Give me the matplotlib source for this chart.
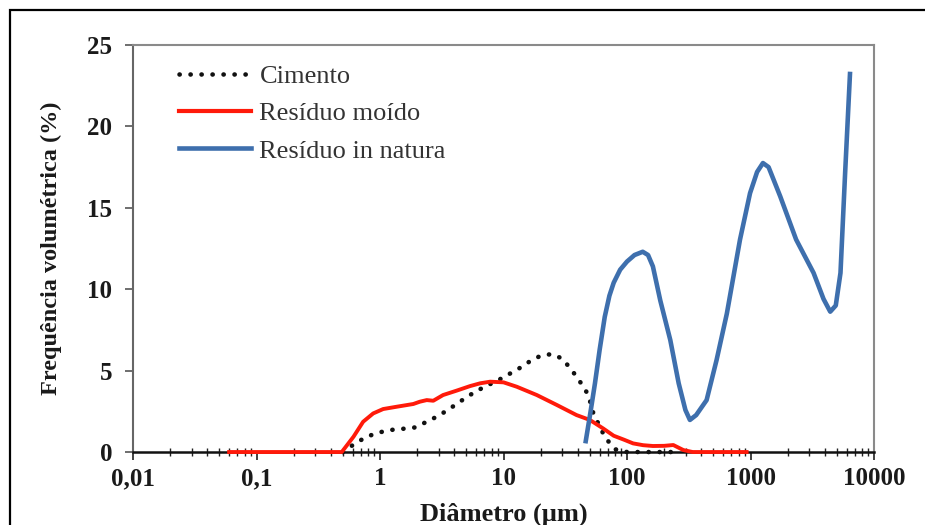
import matplotlib
matplotlib.use("Agg")
import matplotlib.pyplot as plt
from matplotlib.ticker import FixedLocator, FixedFormatter, LogLocator, NullFormatter
from matplotlib.lines import Line2D

# --- data (diameter in µm, volume frequency in %) ---
cimento_d = [0.50, 0.63, 0.78, 0.97, 1.2, 1.55, 1.92, 2.39, 2.88, 3.47, 4.17, 5.0, 6.05,
             7.5, 9.1, 11.0, 13.4, 16.2, 19.8, 24.6, 29.6, 34.3, 39.0, 44.0, 48.6, 53.4,
             64.0, 71.0, 81.0, 100.0, 150.0, 250.0]
cimento_v = [0.0, 0.53, 0.94, 1.19, 1.35, 1.43, 1.51, 1.86, 2.17, 2.54, 2.95, 3.36, 3.75,
             4.11, 4.42, 4.77, 5.14, 5.55, 5.9, 6.02, 5.75, 5.2, 4.63, 4.05, 3.5, 2.37,
             1.15, 0.63, 0.16, 0.0, 0.0, 0.0]

moido_d = [0.06, 0.1, 0.2, 0.3, 0.49, 0.61, 0.73, 0.88, 1.06, 1.36, 1.86, 2.1, 2.39, 2.7,
           3.24, 4.17, 5.36, 6.46, 7.8, 10.0, 12.8, 18.6, 27.0, 39.0, 50.0, 64.0, 78.0,
           95.0, 112.0, 135.0, 162.0, 200.0, 237.0, 286.0, 340.0, 500.0, 930.0]
moido_v = [0.0, 0.0, 0.0, 0.0, 0.0, 0.94, 1.86, 2.37, 2.64, 2.78, 2.95, 3.09, 3.19, 3.15,
           3.5, 3.77, 4.05, 4.22, 4.32, 4.28, 4.01, 3.5, 2.89, 2.27, 1.97, 1.45, 1.0,
           0.75, 0.53, 0.42, 0.37, 0.38, 0.43, 0.12, 0.0, 0.0, 0.0]

natura_d = [46.0, 50.4, 55.0, 60.0, 66.0, 72.0, 78.0, 88.0, 100.0, 115.0, 134.0, 148.0,
            162.0, 186.0, 224.0, 262.0, 297.0, 323.0, 363.0, 441.0, 531.0, 643.0, 822.0,
            991.0, 1130.0, 1260.0, 1400.0, 1740.0, 2340.0, 3240.0, 3900.0, 4420.0, 4900.0,
            5350.0, 5830.0, 6400.0]
natura_v = [0.53, 2.37, 4.22, 6.27, 8.3, 9.6, 10.4, 11.2, 11.7, 12.1, 12.3, 12.1,
            11.4, 9.3, 6.88, 4.22, 2.58, 1.97, 2.27, 3.19, 5.65, 8.5, 13.05,
            15.9, 17.2, 17.75, 17.5, 15.7, 13.05, 11.0, 9.4, 8.62, 9.0,
            11.0, 17.1, 23.36]

series_labels = ["Cimento", "Resíduo moído", "Resíduo in natura"]
x_ticks = [0.01, 0.1, 1, 10, 100, 1000, 10000]
x_ticklabels = ["0,01", "0,1", "1", "10", "100", "1000", "10000"]
y_ticks = [0, 5, 10, 15, 20, 25]

plt.rcParams['font.family'] = ['Liberation Serif', 'DejaVu Serif']

fig = plt.figure(figsize=(9.25, 5.25), dpi=100)
ax = fig.add_axes([0.1438, 0.139, 0.8011, 0.7753])

red = '#FF1A0A'
blue = '#3E6FAD'
dot_style = (0, (0.05, 2.35))

ax.plot(cimento_d, cimento_v, color='#111111', lw=3.3, linestyle=dot_style,
        dash_capstyle='round', clip_on=False, zorder=3)
ax.plot(moido_d, moido_v, color=red, lw=2.8, clip_on=False, zorder=4,
        solid_joinstyle='round')
ax.plot(natura_d, natura_v, color=blue, lw=3.3, clip_on=False, zorder=5,
        solid_joinstyle='round', solid_capstyle='butt')

ax.set_xscale('log')
ax.set_xlim(0.01, 10000)
ax.set_ylim(0, 25)

ax.xaxis.set_major_locator(FixedLocator(x_ticks))
ax.xaxis.set_major_formatter(FixedFormatter(x_ticklabels))
ax.xaxis.set_minor_locator(LogLocator(base=10, subs=range(2, 10), numticks=50))
ax.xaxis.set_minor_formatter(NullFormatter())
ax.set_yticks(y_ticks)
ax.set_yticklabels([str(v) for v in y_ticks])

for lab in ax.get_xticklabels() + ax.get_yticklabels():
    lab.set_fontweight('bold')
    lab.set_fontsize(18)
    lab.set_color('#1a1a1a')

ax.tick_params(axis='x', which='major', direction='out', length=6, width=1.2, pad=5, color='#222222')
ax.tick_params(axis='x', which='minor', direction='inout', length=6, width=1.0, color='#222222')
ax.tick_params(axis='y', which='major', direction='out', length=6, width=1.2, pad=9, color='#555555')

for side in ['top', 'right']:
    ax.spines[side].set_color('#8a8a8a')
    ax.spines[side].set_linewidth(1.5)
ax.spines['left'].set_color('#666666')
ax.spines['left'].set_linewidth(1.5)
ax.spines['bottom'].set_color('#111111')
ax.spines['bottom'].set_linewidth(1.8)

ax.set_xlabel('Diâmetro (µm)', fontsize=19, fontweight='bold', color='#1a1a1a', labelpad=9)
ax.set_ylabel('Frequência volumétrica (%)', fontsize=17.5, fontweight='bold', color='#1a1a1a', labelpad=18)

handles = [
    Line2D([], [], color='#111111', lw=3.3, linestyle=dot_style, dash_capstyle='round'),
    Line2D([], [], color=red, lw=3.0),
    Line2D([], [], color=blue, lw=3.3),
]
leg = ax.legend(handles, series_labels, loc='upper left', bbox_to_anchor=(0.037, 0.997),
                frameon=False, fontsize=19, handlelength=2.75, handletextpad=0.3,
                labelspacing=0.52, borderaxespad=0.3)
for t in leg.get_texts():
    t.set_color('#333333')

# outer frame of the picture (left and top edges visible)
fig.add_artist(plt.Rectangle((9.5 / 925, -0.05), 1.2, 1.05 - 9.5 / 525,
                             transform=fig.transFigure, fill=False, edgecolor='black',
                             linewidth=1.6))

fig.savefig('out.png', dpi=100)
